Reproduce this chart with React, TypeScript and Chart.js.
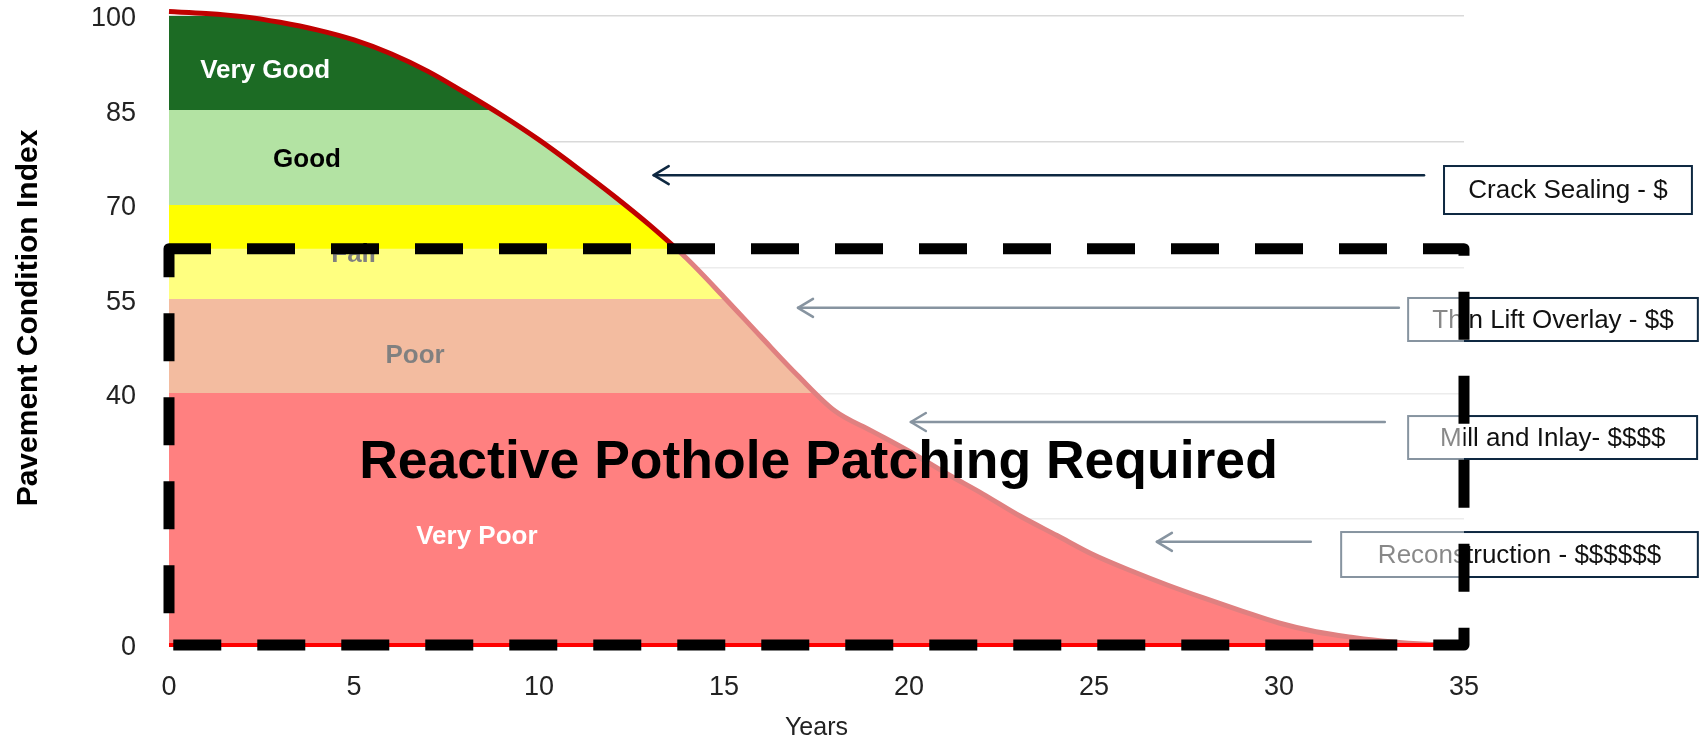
import React, { useEffect, useRef } from 'react';
import { Chart, registerables } from 'chart.js';

Chart.register(...registerables);

// ---------------- data ----------------
const years = [0, 1, 2, 3, 4, 5, 6, 7, 8, 9, 10, 11, 12, 13, 14, 15, 16, 17, 18, 19, 20, 21, 22, 23, 24, 25, 26, 27, 28, 29, 30, 31, 32, 33, 34, 35];
const pciValues = [100.7, 100.4, 99.9, 99.0, 97.8, 96.2, 94.0, 91.2, 87.8, 84.2, 80.3, 76.0, 71.5, 66.7, 61.4, 55.3, 49.0, 42.8, 37.2, 34.0, 30.8, 27.3, 24.0, 20.5, 17.4, 14.3, 11.8, 9.5, 7.4, 5.4, 3.5, 2.1, 1.2, 0.5, 0.1, 0.0];

const xTickValues = [0, 5, 10, 15, 20, 25, 30, 35];
const yTickLabels = [100, 85, 70, 55, 40, 0];
const yGridValues = [0, 20, 40, 60, 80, 100];

const bandNames = ['Very Good', 'Good', 'Fair', 'Poor', 'Very Poor'];
const bandTops = [100, 85, 70, 55, 40];
const bandBottoms = [85, 70, 55, 40, 0];

const treatmentNames = ['Crack Sealing - $', 'Thin Lift Overlay - $$', 'Mill and Inlay- $$$$', 'Reconstruction - $$$$$$'];
const treatmentTargetYears = [13.1, 17.0, 20.05, 26.7];
const treatmentTargetPci = [74.7, 53.6, 35.45, 16.4];

const zoneLabel = 'Reactive Pothole Patching Required';
const zoneYears = [0, 35];
const zonePci = [0, 63];

const zeroLineYears = [0, 35];
const zeroLineValues = [0, 0];

// ---------------- styles / layout ----------------
const FONT = '"Liberation Sans", Arial, sans-serif';
const BAND_COLORS = ['#1C6B24', '#B3E3A3', '#FFFF00', '#E67841', '#FF0000'];
const BAND_TEXT_COLORS = ['#FFFFFF', '#000000', '#000000', '#000000', '#FFFFFF'];
const BAND_LABEL_POS = [
  [2.6, 91.3],
  [3.73, 77.1],
  [5.03, 62.0],
  [6.65, 45.9],
  [8.32, 17.2],
];
const ARROW_COLOR = '#0E2841';
const TREATMENT_LAYOUT = [
  { tail: 33.92, box: [34.46, 41.16, 76.15, 68.52] },
  { tail: 33.24, box: [33.49, 41.32, 55.17, 48.33] },
  { tail: 32.86, box: [33.49, 41.3, 36.4, 29.57] },
  { tail: 30.86, box: [31.68, 41.32, 17.96, 10.81] },
];

function bandGradient(chart: any) {
  const { ctx, chartArea, scales } = chart;
  if (!chartArea || !scales || !scales.y) return BAND_COLORS[0];
  const y = scales.y;
  const top = chartArea.top - 20;
  const bottom = chartArea.bottom + 20;
  const g = ctx.createLinearGradient(0, top, 0, bottom);
  const frac = (v: number) => Math.min(1, Math.max(0, (y.getPixelForValue(v) - top) / (bottom - top)));
  let prev = 0;
  bandBottoms.forEach((b, i) => {
    const end = i === bandBottoms.length - 1 ? 1 : frac(b);
    g.addColorStop(prev, BAND_COLORS[i]);
    g.addColorStop(end, BAND_COLORS[i]);
    prev = end;
  });
  return g;
}

const overlayPlugin = {
  id: 'pciOverlay',
  beforeDatasetDraw(chart: any, args: any) {
    if (args.index !== 0) return;
    const { ctx } = chart;
    const x = chart.scales.x;
    const y = chart.scales.y;
    ctx.save();
    ctx.textAlign = 'center';
    ctx.textBaseline = 'middle';
    // band labels
    ctx.font = `bold 26px ${FONT}`;
    bandNames.forEach((name, i) => {
      ctx.fillStyle = BAND_TEXT_COLORS[i];
      ctx.fillText(name, x.getPixelForValue(BAND_LABEL_POS[i][0]), y.getPixelForValue(BAND_LABEL_POS[i][1]));
    });
    // treatment arrows + boxes
    treatmentNames.forEach((name, i) => {
      const L = TREATMENT_LAYOUT[i];
      const ay = y.getPixelForValue(treatmentTargetPci[i]);
      const tipX = x.getPixelForValue(treatmentTargetYears[i]);
      const tailX = x.getPixelForValue(L.tail);
      ctx.strokeStyle = ARROW_COLOR;
      ctx.lineWidth = 2.5;
      ctx.lineCap = 'round';
      ctx.lineJoin = 'round';
      ctx.beginPath();
      ctx.moveTo(tailX, ay);
      ctx.lineTo(tipX, ay);
      ctx.stroke();
      ctx.beginPath();
      ctx.moveTo(tipX + 15, ay - 9);
      ctx.lineTo(tipX, ay);
      ctx.lineTo(tipX + 15, ay + 9);
      ctx.stroke();
      const bl = x.getPixelForValue(L.box[0]);
      const br = x.getPixelForValue(L.box[1]);
      const bt = y.getPixelForValue(L.box[2]);
      const bb = y.getPixelForValue(L.box[3]);
      ctx.fillStyle = '#FFFFFF';
      ctx.fillRect(bl, bt, br - bl, bb - bt);
      ctx.lineWidth = 2;
      ctx.lineCap = 'butt';
      ctx.lineJoin = 'miter';
      ctx.strokeRect(bl, bt, br - bl, bb - bt);
      ctx.fillStyle = '#111111';
      ctx.font = `26px ${FONT}`;
      ctx.fillText(name, (bl + br) / 2, (bt + bb) / 2 + 1);
    });
    // translucent white overlay of the reactive zone
    const zl = x.getPixelForValue(zoneYears[0]);
    const zr = x.getPixelForValue(zoneYears[1]);
    const zt = y.getPixelForValue(zonePci[1]);
    const zb = y.getPixelForValue(zonePci[0]);
    ctx.fillStyle = 'rgba(255,255,255,0.5)';
    ctx.fillRect(zl, zt, zr - zl, zb - zt);
    ctx.restore();
  },
  afterDatasetsDraw(chart: any) {
    const { ctx } = chart;
    const x = chart.scales.x;
    const y = chart.scales.y;
    const zl = x.getPixelForValue(zoneYears[0]);
    const zr = x.getPixelForValue(zoneYears[1]);
    const zt = y.getPixelForValue(zonePci[1]);
    const zb = y.getPixelForValue(zonePci[0]);
    ctx.save();
    ctx.strokeStyle = '#000000';
    ctx.lineWidth = 11;
    ctx.lineJoin = 'round';
    ctx.lineCap = 'butt';
    ctx.setLineDash([48, 36]);
    ctx.lineDashOffset = 6;
    ctx.beginPath();
    ctx.moveTo(zl, zt);
    ctx.lineTo(zr, zt);
    ctx.lineTo(zr, zb);
    ctx.lineTo(zl, zb);
    ctx.closePath();
    ctx.stroke();
    ctx.setLineDash([]);
    ctx.fillStyle = '#000000';
    ctx.font = `bold 53.5px ${FONT}`;
    ctx.textAlign = 'center';
    ctx.textBaseline = 'alphabetic';
    ctx.fillText(zoneLabel, (zl + zr) / 2 + 2, y.getPixelForValue(26.5));
    ctx.restore();
  },
};

export default function App() {
  const canvasRef = useRef<HTMLCanvasElement | null>(null);

  useEffect(() => {
    const canvas = canvasRef.current;
    if (!canvas) return;
    const allYTicks = Array.from(new Set([...yGridValues, ...yTickLabels])).sort((a, b) => a - b);
    const chart = new Chart(canvas, {
      type: 'line',
      data: {
        datasets: [
          {
            label: 'zero',
            data: zeroLineYears.map((yr, i) => ({ x: yr, y: zeroLineValues[i] })),
            borderColor: '#FF0000',
            borderWidth: 4,
            pointRadius: 0,
            fill: false,
            clip: false,
          } as any,
          {
            label: 'Pavement Condition Index',
            data: years.map((yr, i) => ({ x: yr, y: pciValues[i] })),
            borderColor: '#C00000',
            borderWidth: 5,
            pointRadius: 0,
            cubicInterpolationMode: 'monotone',
            fill: 'origin',
            backgroundColor: (c: any) => bandGradient(c.chart),
            clip: false,
          } as any,
        ],
      },
      options: {
        responsive: false,
        animation: false,
        events: [],
        layout: { padding: { left: 0, right: 236, top: 16, bottom: 0 } },
        plugins: {
          legend: { display: false },
          tooltip: { enabled: false },
        },
        scales: {
          x: {
            type: 'linear',
            min: 0,
            max: 35,
            afterBuildTicks: (s: any) => {
              s.ticks = xTickValues.map((v) => ({ value: v }));
            },
            afterFit: (s: any) => {
              s.height = 98;
              s.paddingLeft = 0;
              s.paddingRight = 0;
            },
            grid: { display: false, drawTicks: false },
            border: { display: false },
            ticks: {
              padding: 26,
              color: '#222222',
              font: { family: FONT, size: 27 },
              autoSkip: false,
              maxRotation: 0,
            },
            title: {
              display: true,
              text: 'Years',
              color: '#222222',
              font: { family: FONT, size: 25 },
              padding: { top: 0, bottom: 0 },
            },
          },
          y: {
            type: 'linear',
            min: 0,
            max: 100,
            afterBuildTicks: (s: any) => {
              s.ticks = allYTicks.map((v) => ({ value: v }));
            },
            afterFit: (s: any) => {
              s.width = 169;
              s.paddingTop = 0;
              s.paddingBottom = 0;
            },
            grid: {
              drawTicks: false,
              lineWidth: 1.5,
              color: (c: any) => (c.tick && yGridValues.includes(c.tick.value) ? '#D9D9D9' : 'rgba(0,0,0,0)'),
            },
            border: { display: false },
            ticks: {
              padding: 33,
              labelOffset: 3,
              color: '#222222',
              autoSkip: false,
              font: { family: FONT, size: 27 },
              callback: (v: any) => (yTickLabels.includes(Number(v)) ? String(v) : ''),
            },
            title: {
              display: true,
              text: '\u00A0\u00A0\u00A0Pavement Condition Index',
              color: '#000000',
              font: { family: FONT, size: 30, weight: 'bold' },
              padding: { top: 11, bottom: 0 },
            },
          },
        },
      },
      plugins: [overlayPlugin as any],
    });
    return () => chart.destroy();
  }, []);

  return (
    <div style={{ position: 'fixed', left: 0, top: 0, width: 1700, height: 743, background: '#FFFFFF' }}>
      <canvas ref={canvasRef} width={1700} height={743} style={{ display: 'block' }} />
    </div>
  );
}
